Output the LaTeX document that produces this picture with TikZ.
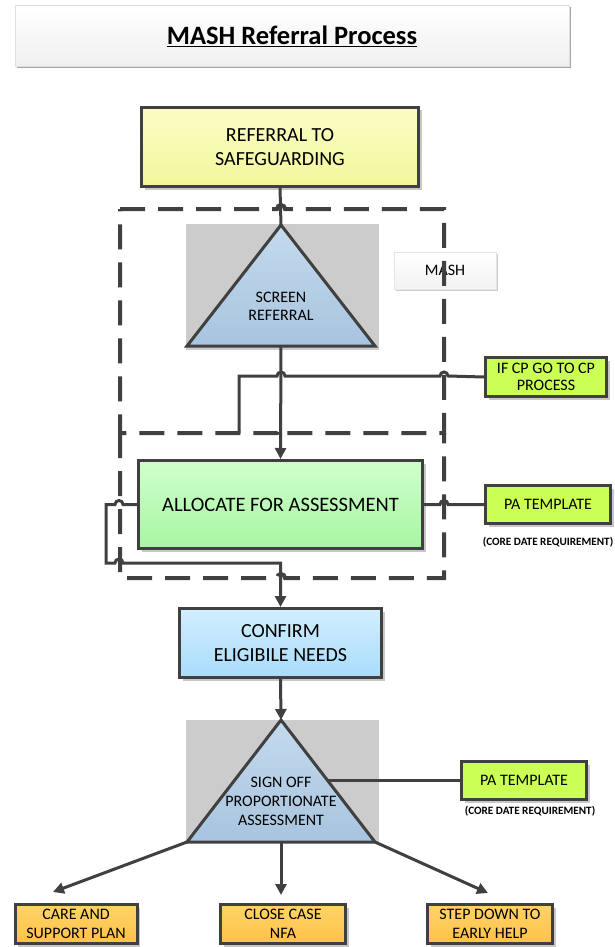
\documentclass[tikz,border=0pt]{standalone}
\usepackage{fontspec}
\setmainfont{Carlito}
\usetikzlibrary{positioning,shadows,arrows.meta}

\definecolor{dk}{HTML}{404040}
\definecolor{gbg}{HTML}{CCCCCC}
\definecolor{refT}{HTML}{FAFDC4}
\definecolor{refB}{HTML}{F2F79C}
\definecolor{allT}{HTML}{CFFFCC}
\definecolor{allB}{HTML}{A8F5A2}
\definecolor{conT}{HTML}{D2EEFF}
\definecolor{conB}{HTML}{A9DCFA}
\definecolor{triT}{HTML}{C4DAEE}
\definecolor{triB}{HTML}{A8C4DE}
\definecolor{lime}{HTML}{CCFF55}
\definecolor{orT}{HTML}{FFD36A}
\definecolor{orB}{HTML}{FFC245}

\begin{document}
\begin{tikzpicture}[x=1pt, y=1pt,
	bx/.style={draw=dk, line width=3pt, align=center, inner sep=2pt, font=\fontsize{20}{24}\selectfont, drop shadow={shadow xshift=3pt, shadow yshift=-3pt, fill=black!22, opacity=1}},
	sm/.style={bx, font=\fontsize{16}{19}\selectfont},
	gr/.style={sm, fill=lime},
	or/.style={sm, top color=orT, bottom color=orB},
	ln/.style={draw=dk, line width=3pt},
	ar/.style={-{Triangle[length=11pt,width=11pt]}},
	dl/.style={draw=dk, line width=4pt, dash pattern=on 25pt off 13pt},
	tri/.style={draw=dk, line width=3pt, top color=triT, bottom color=triB, line join=miter},
	lbl/.style={inner sep=0pt, font=\fontsize{11.2}{13}\bfseries\selectfont}]
	\useasboundingbox (0,0) rectangle (614,-947);

	% title
	\node[draw=gray!25, top color=white, bottom color=gray!12, minimum width=554, minimum height=61, drop shadow={shadow xshift=2pt, shadow yshift=-2pt, fill=gray!70, opacity=1}, font=\fontsize{26.5}{30}\bfseries\selectfont] (T) at (292,-36) {\underline{MASH Referral Process}};

	% boxes
	\node[bx, top color=refT, bottom color=refB, minimum width=277, minimum height=79] (R) at (280,-147) {REFERRAL TO\\SAFEGUARDING};
	\node[bx, top color=allT, bottom color=allB, minimum width=284, minimum height=88, font=\fontsize{20.5}{24}\selectfont] (A) at (280.5,-504.5) {ALLOCATE FOR ASSESSMENT};
	\node[bx, top color=conT, bottom color=conB, minimum width=202, minimum height=69] (C) at (280.5,-643) {CONFIRM\\ELIGIBILE NEEDS};
	\node[draw=gray!20, top color=white, bottom color=gray!10, minimum width=102, minimum height=37, drop shadow={shadow xshift=2pt, shadow yshift=-2pt, fill=gray!40, opacity=1}, font=\fontsize{16}{19}\selectfont] (M) at (445,-270.5) {MASH};

	% side boxes
	\node[gr, minimum width=121, minimum height=39, font=\fontsize{16}{17}\selectfont] (P1) at (546,-377) {IF CP GO TO CP\\PROCESS};
	\node[gr, minimum width=125, minimum height=38] (P2) at (548,-504.5) {PA TEMPLATE};
	\node[lbl, below=12pt of P2] (P2_label) {(CORE DATE REQUIREMENT)};
	\node[gr, minimum width=125, minimum height=38] (P3) at (524,-780.5) {PA TEMPLATE};
	\node[lbl, below=5pt of P3, xshift=6pt] (P3_label) {(CORE DATE REQUIREMENT)};

	% outcomes
	\node[or, minimum width=122, minimum height=39] (O1) at (76,-924) {CARE AND\\SUPPORT PLAN};
	\node[or, minimum width=125, minimum height=39] (O2) at (283,-924) {CLOSE CASE\\NFA};
	\node[or, minimum width=125, minimum height=39] (O3) at (490,-924) {STEP DOWN TO\\EARLY HELP};

	% screen referral
	\fill[gbg] (186,-224) rectangle (379,-350);
	\coordinate (S1t) at (281,-225);
	\coordinate (S1l) at (187,-346);
	\coordinate (S1r) at (375,-346);
	\coordinate (S1b) at (281,-346);
	\draw[tri] (S1t) -- (S1r) -- (S1l) -- cycle;
	\node[align=center, font=\fontsize{16}{18}\selectfont] (S1) at (281,-306) {SCREEN\\REFERRAL};

	% sign off
	\fill[gbg] (186,-720) rectangle (379,-843);
	\coordinate (S2t) at (281,-720);
	\coordinate (S2l) at (187,-842);
	\coordinate (S2r) at (375,-842);
	\coordinate (S2b) at (281,-842);
	\coordinate (S2e) at (328,-780.5);
	\draw[tri] (S2t) -- (S2r) -- (S2l) -- cycle;
	\node[align=center, font=\fontsize{16}{19}\selectfont] (S2) at (281,-801) {SIGN OFF\\PROPORTIONATE\\ASSESSMENT};

	% dashed groups
	\draw[dl] (120,-209) -- (277,-209) arc (180:0:4) -- (444,-209) -- (444,-433) -- (285,-433) arc (0:180:4) -- (120,-433) -- cycle;
	\draw[dl] (120,-433) -- (120,-578) -- (277,-578) arc (180:0:4) -- (444,-578) -- (444,-433);

	% connectors
	\coordinate (J) at (239,-433);
	\draw[ln] (R.south) -- (S1t);
	\draw[ln, ar] (S1b) -- (A.north);
	\draw[ln] (J) -- (239,-376) -- (277,-376) arc (180:0:4) -- (440,-376) arc (180:0:4) -- (P1.west);
	\draw[ln] (A.east) -- (440,-504.5) arc (180:0:4) -- (P2.west);
	\draw[ln, ar] (A.west) -- (123,-504.5) arc (0:180:4) -- (106,-504.5) -- (106,-563) -- (115,-563) arc (180:0:4) -- (C.north |- 0,-563) -- (C.north);
	\draw[ln, ar] (C.south) -- (S2t);
	\draw[ln] (S2e) -- (P3.west);

	\coordinate (E1) at (53,-892);
	\coordinate (E2) at (281,-895);
	\coordinate (E3) at (488,-893);
	\draw[ln, ar] (S2l) -- (E1);
	\draw[ln, ar] (S2b) -- (E2);
	\draw[ln, ar] (S2r) -- (E3);
\end{tikzpicture}
\end{document}
